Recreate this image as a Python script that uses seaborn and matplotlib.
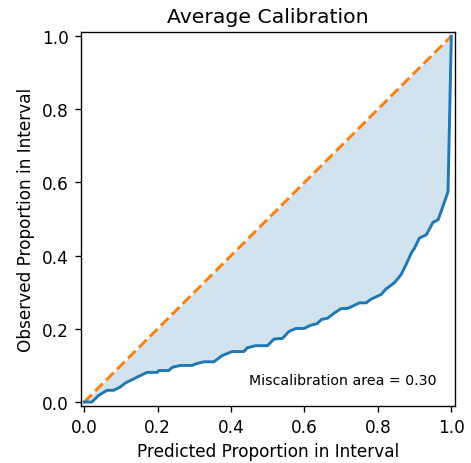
import matplotlib
matplotlib.use("Agg")
import matplotlib.pyplot as plt
import seaborn as sns
import numpy as np
import pandas as pd

# Expected (predicted) proportions and observed proportions
expected = [0.0, 0.021, 0.039, 0.062, 0.08, 0.098, 0.112, 0.144, 0.171, 0.199, 0.203,
            0.23, 0.24, 0.262, 0.294, 0.303, 0.326, 0.353, 0.376, 0.403, 0.435, 0.444,
            0.467, 0.499, 0.517, 0.54, 0.558, 0.577, 0.599, 0.617, 0.634, 0.647, 0.663,
            0.681, 0.699, 0.718, 0.731, 0.75, 0.768, 0.781, 0.809, 0.822, 0.845, 0.863,
            0.877, 0.891, 0.9, 0.913, 0.932, 0.95, 0.964, 0.977, 0.991, 1.0]
observed = [0.0, 0.0, 0.018, 0.032, 0.032, 0.041, 0.052, 0.068, 0.081, 0.081, 0.086,
            0.086, 0.095, 0.10, 0.10, 0.104, 0.11, 0.11, 0.127, 0.138, 0.138, 0.148,
            0.154, 0.154, 0.172, 0.174, 0.193, 0.201, 0.201, 0.21, 0.214, 0.226, 0.229,
            0.243, 0.255, 0.256, 0.262, 0.271, 0.271, 0.281, 0.294, 0.309, 0.326, 0.348,
            0.376, 0.407, 0.421, 0.448, 0.457, 0.491, 0.498, 0.534, 0.575, 1.0]
ideal = [0.0, 1.0]
miscal_area = 0.30
ticks = [0.0, 0.2, 0.4, 0.6, 0.8, 1.0]

df = pd.DataFrame({"expected": expected, "observed": observed})
df_ideal = pd.DataFrame({"x": ideal, "y": ideal})

s = 1.22
plt.rcParams.update({
    "xtick.labelsize": 10 * s, "ytick.labelsize": 10 * s,
    "axes.labelsize": 10 * s, "axes.titlesize": 12 * s,
    "xtick.major.size": 3.5 * s, "ytick.major.size": 3.5 * s,
    "xtick.major.pad": 3.5 * s, "ytick.major.pad": 3.5 * s,
    "xtick.major.width": 0.8 * s, "ytick.major.width": 0.8 * s,
    "axes.linewidth": 0.8 * s, "axes.labelpad": 4.0 * s, "axes.titlepad": 6.0 * s,
})

fig = plt.figure(figsize=(4.71, 4.64), dpi=100)
ax = fig.add_axes([0.171, 0.1235, 0.795, 0.8045])

sns.lineplot(data=df_ideal, x="x", y="y", ax=ax, color="C1", linewidth=2.1)
ax.lines[-1].set_linestyle("--")
sns.lineplot(data=df, x="expected", y="observed", ax=ax, color="C0", linewidth=2.1,
             sort=False, estimator=None)
ax.fill_between(df["expected"], df["expected"], df["observed"], color="C0", alpha=0.2,
                linewidth=0)

buff = 0.01
ax.set_xlim(0 - buff, 1 + buff)
ax.set_ylim(0 - buff, 1 + buff)
ax.set_xticks(ticks)
ax.set_yticks(ticks)
ax.set_xlabel("Predicted Proportion in Interval")
ax.set_ylabel("Observed Proportion in Interval")
ax.set_title("Average Calibration")
ax.text(0.95, 0.05, "Miscalibration area = {:.2f}".format(miscal_area),
        transform=ax.transAxes, ha="right", va="bottom", fontsize=8.33 * s)

fig.savefig("out.png", dpi=100)
